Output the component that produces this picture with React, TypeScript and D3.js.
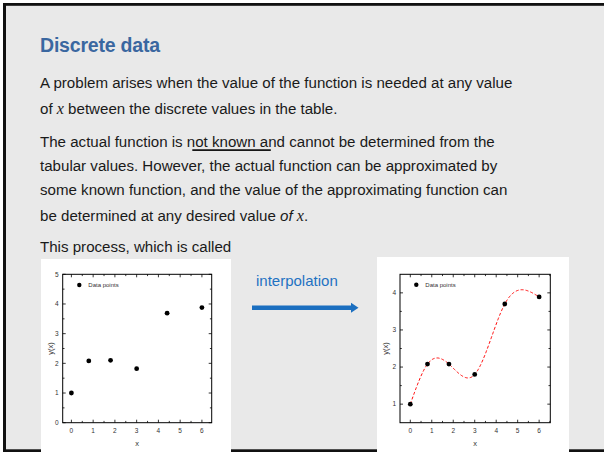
import React from "react";
import * as d3 from "d3";

const xValues = [0, 0.8, 1.8, 3, 4.4, 6];
const yLeft = [1, 2.08, 2.1, 1.82, 3.69, 3.88];
const yRight = [1, 2.08, 2.08, 1.8, 3.7, 3.89];
const xTicks = [0, 1, 2, 3, 4, 5, 6];
const yTicksLeft = [0, 1, 2, 3, 4, 5];
const yTicksRight = [1, 2, 3, 4];
const legendLabel = "Data points";

// natural cubic spline through (xs, ys)
function naturalSpline(xs: number[], ys: number[]) {
  const n = xs.length;
  const h: number[] = [];
  for (let i = 0; i < n - 1; i++) h.push(xs[i + 1] - xs[i]);
  const a = new Array(n).fill(0), b = new Array(n).fill(1), c = new Array(n).fill(0), r = new Array(n).fill(0);
  for (let i = 1; i < n - 1; i++) {
    a[i] = h[i - 1];
    b[i] = 2 * (h[i - 1] + h[i]);
    c[i] = h[i];
    r[i] = 6 * ((ys[i + 1] - ys[i]) / h[i] - (ys[i] - ys[i - 1]) / h[i - 1]);
  }
  const cp = new Array(n).fill(0), dp = new Array(n).fill(0);
  cp[0] = c[0] / b[0];
  dp[0] = r[0] / b[0];
  for (let i = 1; i < n; i++) {
    const m = b[i] - a[i] * cp[i - 1];
    cp[i] = c[i] / m;
    dp[i] = (r[i] - a[i] * dp[i - 1]) / m;
  }
  const M = new Array(n).fill(0);
  M[n - 1] = dp[n - 1];
  for (let i = n - 2; i >= 0; i--) M[i] = dp[i] - cp[i] * M[i + 1];
  return (x: number) => {
    let i = 0;
    while (i < n - 2 && x > xs[i + 1]) i++;
    const hi = h[i];
    const t1 = xs[i + 1] - x, t2 = x - xs[i];
    return (
      (M[i] * t1 * t1 * t1) / (6 * hi) +
      (M[i + 1] * t2 * t2 * t2) / (6 * hi) +
      (ys[i] / hi - (M[i] * hi) / 6) * t1 +
      (ys[i + 1] / hi - (M[i + 1] * hi) / 6) * t2
    );
  };
}

type PanelProps = {
  bg: [number, number, number, number];
  box: [number, number, number, number];
  xDomain: [number, number];
  yDomain: [number, number];
  yTicks: number[];
  ys: number[];
  curve: boolean;
  yLabelX: number;
  legend: [number, number];
};

function Panel({ bg, box, xDomain, yDomain, yTicks, ys, curve, yLabelX, legend }: PanelProps) {
  const [x0, x1, yTop, yBot] = box;
  const xs = d3.scaleLinear().domain(xDomain).range([x0, x1]);
  const sy = d3.scaleLinear().domain(yDomain).range([yBot, yTop]);
  const xMinor = d3.range(Math.ceil(xDomain[0] * 2) / 2, xDomain[1] + 1e-9, 0.5).filter((v) => !Number.isInteger(v));
  const yMinor = d3.range(Math.ceil(yDomain[0] * 2) / 2, yDomain[1] + 1e-9, 0.5).filter(
    (v) => !Number.isInteger(v) && v > yDomain[0] + 1e-6 && v < yDomain[1] - 1e-6
  );
  const majT = 3, minT = 1.8;
  let path = "";
  if (curve) {
    const f = naturalSpline(xValues, ys);
    const samples = d3.range(xValues[0], xValues[xValues.length - 1] + 1e-9, 0.02).map((x) => [x, f(x)] as [number, number]);
    path = d3.line<[number, number]>().x((d) => xs(d[0])).y((d) => sy(d[1]))(samples) || "";
  }
  const font = "Liberation Sans, Arial, sans-serif";
  return (
    <g>
      <rect x={bg[0]} y={bg[1]} width={bg[2] - bg[0]} height={bg[3] - bg[1]} fill="#ffffff" />
      {curve && <path d={path} fill="none" stroke="#ff0000" strokeWidth={1} strokeDasharray="3,2" />}
      {xValues.map((x, i) => (
        <circle key={i} cx={xs(x)} cy={sy(ys[i])} r={2.4} fill="#000" />
      ))}
      <rect x={x0} y={yTop} width={x1 - x0} height={yBot - yTop} fill="none" stroke="#000" strokeWidth={1} />
      {xTicks.map((t) => (
        <g key={"xt" + t}>
          <line x1={xs(t)} x2={xs(t)} y1={yBot} y2={yBot - majT} stroke="#000" strokeWidth={0.8} />
          <line x1={xs(t)} x2={xs(t)} y1={yTop} y2={yTop + majT} stroke="#000" strokeWidth={0.8} />
          <text x={xs(t)} y={432.5} fontSize={6.5} fontFamily={font} textAnchor="middle" fill="#333">{t}</text>
        </g>
      ))}
      {xMinor.map((t) => (
        <g key={"xm" + t}>
          <line x1={xs(t)} x2={xs(t)} y1={yBot} y2={yBot - minT} stroke="#000" strokeWidth={0.8} />
          <line x1={xs(t)} x2={xs(t)} y1={yTop} y2={yTop + minT} stroke="#000" strokeWidth={0.8} />
        </g>
      ))}
      {yTicks.map((t) => (
        <g key={"yt" + t}>
          <line x1={x0} x2={x0 + majT} y1={sy(t)} y2={sy(t)} stroke="#000" strokeWidth={0.8} />
          <line x1={x1} x2={x1 - majT} y1={sy(t)} y2={sy(t)} stroke="#000" strokeWidth={0.8} />
          <text x={x0 - 4} y={sy(t) + 2.3} fontSize={6.5} fontFamily={font} textAnchor="end" fill="#333">{t}</text>
        </g>
      ))}
      {yMinor.map((t) => (
        <g key={"ym" + t}>
          <line x1={x0} x2={x0 + minT} y1={sy(t)} y2={sy(t)} stroke="#000" strokeWidth={0.8} />
          <line x1={x1} x2={x1 - minT} y1={sy(t)} y2={sy(t)} stroke="#000" strokeWidth={0.8} />
        </g>
      ))}
      <text x={(x0 + x1) / 2} y={446} fontSize={7.5} fontFamily={font} textAnchor="middle" fill="#333">x</text>
      <text
        transform={`translate(${yLabelX},${(yTop + yBot) / 2}) rotate(-90)`}
        fontSize={7.5}
        fontFamily={font}
        textAnchor="middle"
        fill="#333"
      >
        y(x)
      </text>
      <circle cx={legend[0]} cy={legend[1]} r={2.2} fill="#000" />
      <text x={legend[0] + 9} y={legend[1] + 2} fontSize={6} fontFamily={font} fill="#333">{legendLabel}</text>
    </g>
  );
}

export default function App() {
  const sans = "Liberation Sans, Arial, sans-serif";
  const serif = "Liberation Serif, Times New Roman, serif";
  const body = 15.1;
  return (
    <svg width={604} height={452} style={{ position: "absolute", left: 0, top: 0 }}>
      <rect x={0} y={0} width={604} height={452} fill="#ffffff" />
      <rect x={5} y={5} width={599} height={445} fill="#e9e9e9" />
      <rect x={3} y={3} width={601} height={2.8} fill="#111" />
      <rect x={3} y={3} width={3} height={449} fill="#111" />
      <rect x={3} y={449.3} width={601} height={2.7} fill="#111" />

      <text x={40} y={52.3} fontSize={19.5} fontWeight="bold" fontFamily={sans} fill="#3a67a0" letterSpacing={-0.2}>
        Discrete data
      </text>
      <g fontFamily={sans} fontSize={body} fill="#1a1a1a">
        <text x={40} y={88.3}>A problem arises when the value of the function is needed at any value</text>
        <text x={40} y={114.3}>
          of <tspan fontFamily={serif} fontStyle="italic" fontSize={16}>x</tspan> between the discrete values in the table.
        </text>
        <text x={40} y={146.5}>The actual function is not known and cannot be determined from the</text>
        <text x={40} y={170.5}>tabular values. However, the actual function can be approximated by</text>
        <text x={40} y={194.5}>some known function, and the value of the approximating function can</text>
        <text x={40} y={220.5}>
          be determined at any desired value <tspan fontStyle="italic">of</tspan>{" "}
          <tspan fontFamily={serif} fontStyle="italic" fontSize={16}>x</tspan>.
        </text>
        <text x={40} y={251.5}>This process, which is called</text>
      </g>
      <rect x={192.3} y={149.3} width={78.5} height={1.6} fill="#000" />

      <Panel
        bg={[41, 259, 231, 452]}
        box={[62.7, 211.7, 274.3, 422.7]}
        xDomain={[-0.4, 6.45]}
        yDomain={[0, 5]}
        yTicks={yTicksLeft}
        ys={yLeft}
        curve={false}
        yLabelX={52.5}
        legend={[79.3, 285]}
      />
      <Panel
        bg={[377, 257, 569, 452]}
        box={[400, 550.3, 274.3, 422.7]}
        xDomain={[-0.48, 6.52]}
        yDomain={[0.5, 4.5]}
        yTicks={yTicksRight}
        ys={yRight}
        curve={true}
        yLabelX={387.5}
        legend={[416.3, 284.7]}
      />

      <text x={256} y={286} fontSize={15} fontFamily={sans} fill="#1f72c2">interpolation</text>
      <line x1={252} x2={352} y1={307.7} y2={307.7} stroke="#1b6fc0" strokeWidth={4.5} />
      <path d="M351,302.7 L358.5,307.7 L351,312.7 Z" fill="#1b6fc0" />
    </svg>
  );
}
